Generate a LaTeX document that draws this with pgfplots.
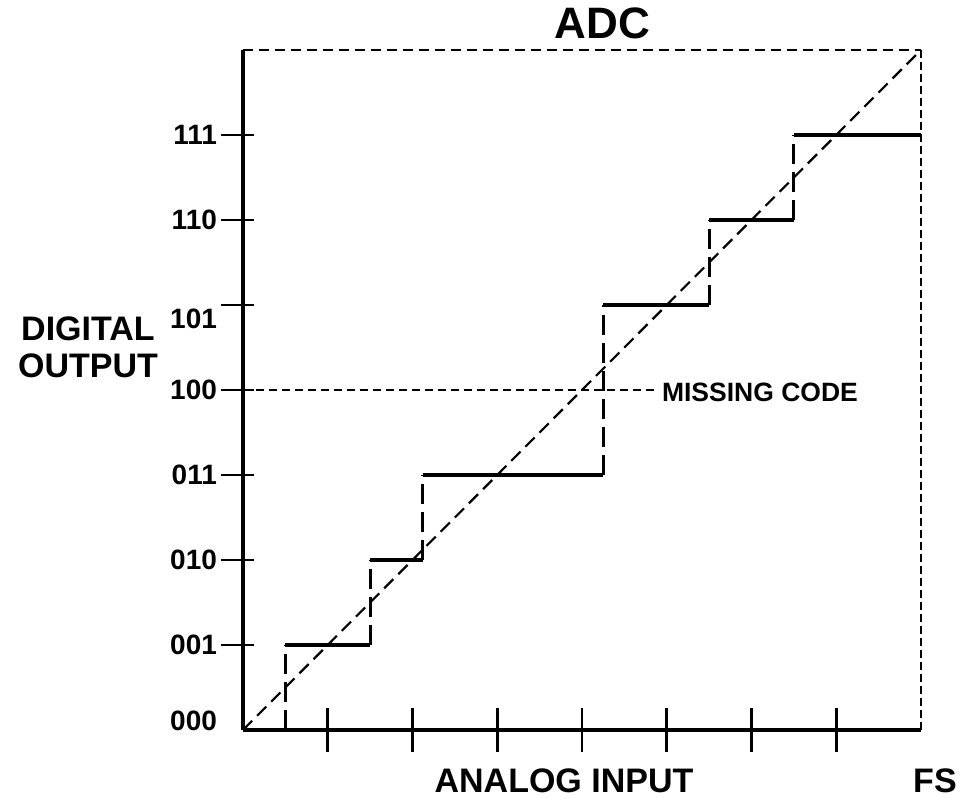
\documentclass[border=0pt]{standalone}
\usepackage{fontspec}
\setmainfont{Liberation Sans}
\usepackage{pgfplots}
\pgfplotsset{compat=1.18}

\tikzset{
  hstep/.style={black, line width=1.6pt},
  vstep/.style={black, line width=1.6pt, dash pattern=on 10pt off 4pt},
  bigfont/.style={font=\fontsize{17}{18.5}\selectfont\bfseries},
  smallfont/.style={font=\fontsize{14}{16}\selectfont\bfseries},
}
\pgfplotsset{
  adcframe/.style={
    width=339pt, height=340pt, scale only axis,
    xmin=0, xmax=8, ymin=0, ymax=8, clip=false,
  },
}

\begin{document}
\begin{tikzpicture}
% y axis in its own axis, so its ticks can be shorter and off-centre
\begin{axis}[
  adcframe,
  axis x line=none, axis y line=left,
  axis line style={-, line width=1.8pt},
  xtick=\empty,
  ytick={1,...,7},
  yticklabels={001,010,011,100,\raisebox{-7pt}[\height][0pt]{101},110,111},
  extra y ticks={0}, extra y tick labels={\raisebox{4.5pt}[\height][0pt]{000}},
  extra y tick style={y tick style={draw=none}},
  tick align=outside, major tick length=16.5pt,
  y tick style={line width=1.3pt, xshift=5.5pt, black},
  yticklabel style={smallfont, xshift=7pt},
  ylabel={DIGITAL\\OUTPUT},
  ylabel style={bigfont, rotate=-90, at={(rel axis cs:-0.2286,0.563)}, anchor=center, align=center},
]
\end{axis}

\begin{axis}[
  adcframe,
  axis x line=bottom, axis y line=none,
  axis line style={-, line width=1.8pt},
  ytick=\empty,
  xtick={1,...,7}, xticklabels={},
  tick align=center, major tick length=22pt,
  x tick style={line width=1.3pt, black},
  xlabel={ANALOG INPUT},
  xlabel style={bigfont, at={(rel axis cs:0.4735,-0.075)}, anchor=center},
  title={ADC},
  title style={font=\fontsize{22}{24}\selectfont\bfseries, at={(rel axis cs:0.530,1.039)}, anchor=center, yshift=-6pt},
  unbounded coords=jump,
]
% frame: top and right sides
\addplot[black, line width=0.7pt, dash pattern=on 5pt off 3pt] coordinates {(0,8) (8,8)};
\addplot[black, line width=1.4pt, dash pattern=on 4pt off 2pt] coordinates {(8,8) (8,0)};

% ideal transfer line
\addplot[black, line width=1.1pt, dash pattern=on 6.5pt off 3.5pt] coordinates {(0,0) (8,8)};

% missing code level
\addplot[black, line width=0.6pt, dash pattern=on 4pt off 2.5pt] coordinates {(0,4) (4.86,4)};

% codes (solid treads)
\addplot[hstep] coordinates {
  (0.5,1) (1.5,1) (1.5,inf)
  (1.5,2) (2.12,2) (2.12,inf)
  (2.12,3) (4.25,3) (4.25,inf)
  (4.25,5) (5.5,5) (5.5,inf)
  (5.5,6) (6.5,6) (6.5,inf)
  (6.5,7) (8,7)
};
% transitions (dashed risers)
\addplot[vstep] coordinates {
  (0.5,0) (0.5,1) (0.5,inf)
  (1.5,1) (1.5,2) (1.5,inf)
  (2.12,2) (2.12,3) (2.12,inf)
  (4.25,3) (4.25,5) (4.25,inf)
  (5.5,5) (5.5,6) (5.5,inf)
  (6.5,6) (6.5,7)
};

\node[bigfont] at (axis cs:8.165,-0.6) {FS};
\node[font=\fontsize{13.25}{15}\selectfont\bfseries] at (axis cs:6.1,3.97) {MISSING CODE};

\coordinate (bbsw) at (axis cs:-2.867,-0.8);
\coordinate (bbne) at (axis cs:8.496,8.588);
\end{axis}
\pgfresetboundingbox
\path[use as bounding box] (bbsw) rectangle (bbne);
\end{tikzpicture}
\end{document}
